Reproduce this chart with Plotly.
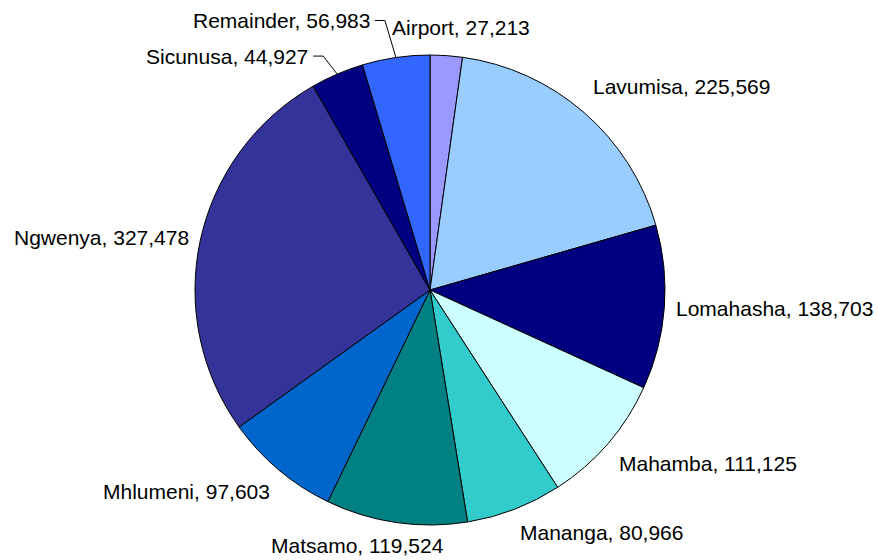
import math
import plotly.graph_objects as go

labels = ["Airport", "Lavumisa", "Lomahasha", "Mahamba", "Mananga",
          "Matsamo", "Mhlumeni", "Ngwenya", "Sicunusa", "Remainder"]
values = [27213, 225569, 138703, 111125, 80966,
          119524, 97603, 327478, 44927, 56983]
colors = ["#9999FF", "#99CCFF", "#000080", "#CCFFFF", "#33CCCC",
          "#008080", "#0066CC", "#333399", "#000080", "#3366FF"]

# layout constants (screen pixels)
W, H = 878, 560
CX, CY, R = 430, 290, 235
GAP = 10
TOP_EXTRA = 5
FSIZE = 21
FONT = dict(family="Arial, Liberation Sans, sans-serif", size=FSIZE, color="#000000")
# labels drawn with a leader line: offset of the text's right end from the slice edge point
leader_offsets = {"Remainder": (-24, -37), "Sicunusa": (-27, -18)}

# approximate Arial advance widths (per 1000 em) for label width estimation
_AW = {c: 556 for c in "0123456789abdeghnopqu"}
_AW.update({",": 278, " ": 278, "c": 500, "f": 278, "i": 222, "j": 222, "k": 500, "l": 222,
            "m": 833, "r": 333, "s": 500, "t": 278, "v": 500, "w": 722, "x": 500, "y": 500,
            "z": 500, "A": 667, "L": 556, "M": 833, "N": 722, "R": 722, "S": 667})


def text_width(t):
    return sum(_AW.get(ch, 556) for ch in t) / 1000 * FSIZE


def px(x):
    return x / W


def py(y):
    return 1 - y / H


fig = go.Figure(go.Pie(
    labels=labels, values=values, sort=False, direction="clockwise", rotation=0,
    marker=dict(colors=colors, line=dict(color="#000000", width=1)),
    textinfo="none", hoverinfo="label+value", showlegend=False,
    domain=dict(x=[px(CX - R), px(CX + R)], y=[py(CY + R), py(CY - R)]),
))

total = sum(values)
cum = 0
annotations = []
shapes = []
for lab, v in zip(labels, values):
    mid = math.radians((cum + v / 2) / total * 360)
    cum += v
    s, c = math.sin(mid), math.cos(mid)
    text = f"{lab}, {v:,}"
    ex, ey = CX + R * s, CY - R * c
    if lab in leader_offsets:
        ox, oy = leader_offsets[lab]
        lx, ly = ex + ox, ey + oy
        annotations.append(dict(x=px(lx), y=py(ly), xref="paper", yref="paper", text=text,
                                showarrow=False, xanchor="right", yanchor="middle", font=FONT))
        shapes.append(dict(type="path", xref="paper", yref="paper",
                           path=f"M {px(lx + 3)},{py(ly)} L {px(lx + 13)},{py(ly)} L {px(ex)},{py(ey)}",
                           line=dict(color="#000000", width=1)))
        continue
    x, y = CX + (R + GAP) * s, CY - (R + GAP) * c
    w = text_width(text)
    xc = x + (w / 2 + 2) * max(-1.0, min(1.0, 2.9 * s))
    if c > 0.3:
        ya = "bottom"
        y -= TOP_EXTRA
    elif c < -0.3:
        ya = "top"
    else:
        ya = "middle"
    annotations.append(dict(x=px(xc), y=py(y), xref="paper", yref="paper", text=text,
                            showarrow=False, xanchor="center", yanchor=ya, font=FONT))

fig.update_layout(
    width=W, height=H, margin=dict(l=0, r=0, t=0, b=0),
    paper_bgcolor="#FFFFFF", plot_bgcolor="#FFFFFF",
    annotations=annotations, shapes=shapes,
)
fig.write_html(
    "out.html",
    config={"displayModeBar": False},
    post_script="document.documentElement.style.overflow='hidden';"
                "document.body.style.margin='0';document.body.style.overflow='hidden';",
)
